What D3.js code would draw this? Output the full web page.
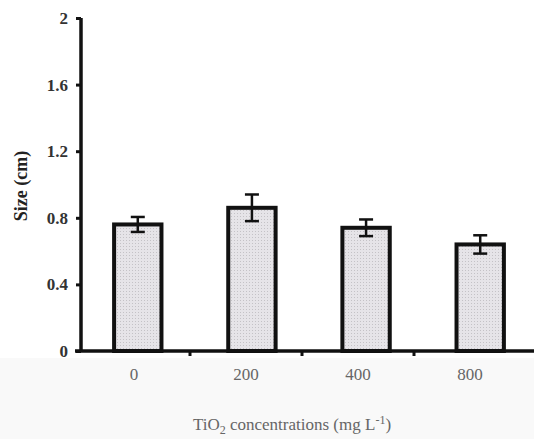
<!DOCTYPE html>
<html>
<head>
<meta charset="utf-8">
<script src="https://cdn.jsdelivr.net/npm/d3@7"></script>
<style>
  body { margin: 0; background: #fff; }
  svg { display: block; }
  svg text { font-family: "Liberation Serif", "Times New Roman", serif !important; }
</style>
</head>
<body>
<div id="chart"></div>
<script>
// data
var concentrations = ["0", "200", "400", "800"];
var sizes = [0.76, 0.86, 0.74, 0.64];
var errors = [0.045, 0.08, 0.05, 0.055];
var yTicks = [0, 0.4, 0.8, 1.2, 1.6, 2];

var width = 534;
var height = 439;
var y0 = 351, yTop = 18, xLeft = 81;

var svg = d3.select("#chart")
  .append("svg")
  .attr("width", width)
  .attr("height", height);

// the scan is a bit grey under the axis
svg.append("rect")
  .attr("x", 0).attr("y", 358)
  .attr("width", width).attr("height", height - 358)
  .attr("fill", "#f9f9f9");

var defs = svg.append("defs");
var pat = defs.append("pattern")
  .attr("id", "dots")
  .attr("width", 3).attr("height", 3)
  .attr("patternUnits", "userSpaceOnUse");
pat.append("rect").attr("width", 3).attr("height", 3).attr("fill", "#e6e4e8");
pat.append("rect").attr("width", 1).attr("height", 1).attr("fill", "#c4c2c6");

var y = d3.scaleLinear().domain([0, 2]).range([y0, yTop]);

// bars sit slightly right of the labels in the original
var xBars = d3.scaleBand().domain(concentrations).range([xLeft, 537]).paddingInner(0.585).paddingOuter(0.29);
var xLabels = d3.scaleBand().domain(concentrations).range([78, 526]);

// y axis
var yAxis = svg.append("g")
  .attr("transform", `translate(${xLeft},0)`)
  .call(d3.axisLeft(y).tickValues(yTicks).tickSize(5).tickFormat(d => d === 0 ? "0" : d3.format("")(d)));
yAxis.select(".domain").attr("stroke", "#111").attr("stroke-width", 3.5).attr("d", `M0,${y0}V${yTop}`);
yAxis.selectAll(".tick line").attr("stroke", "#111").attr("stroke-width", 3);
yAxis.selectAll(".tick text")
  .attr("font-size", 17).attr("font-weight", "bold").attr("fill", "#333").attr("x", -13);

// bars
var data = concentrations.map((c, i) => ({c: c, v: sizes[i], e: errors[i]}));

svg.append("g").selectAll("rect")
  .data(data)
  .join("rect")
    .attr("x", d => xBars(d.c))
    .attr("y", d => y(d.v))
    .attr("width", xBars.bandwidth())
    .attr("height", d => y0 - y(d.v))
    .attr("fill", "url(#dots)")
    .attr("stroke", "#111")
    .attr("stroke-width", 4);

// error bars
var eb = svg.append("g").attr("stroke", "#111").attr("stroke-width", 2.5);
data.forEach(d => {
  var cx = xBars(d.c) + xBars.bandwidth() / 2;
  eb.append("line").attr("x1", cx).attr("x2", cx).attr("y1", y(d.v + d.e)).attr("y2", y(d.v - d.e));
  eb.append("line").attr("x1", cx - 7).attr("x2", cx + 7).attr("y1", y(d.v + d.e)).attr("y2", y(d.v + d.e));
  eb.append("line").attr("x1", cx - 7).attr("x2", cx + 7).attr("y1", y(d.v - d.e)).attr("y2", y(d.v - d.e));
});

// x axis
var xAxis = svg.append("g")
  .attr("transform", `translate(0,${y0})`)
  .call(d3.axisBottom(xLabels).tickSize(0).tickPadding(17));
xAxis.select(".domain").remove();
xAxis.append("line")
  .attr("x1", 75).attr("x2", width).attr("y1", 0).attr("y2", 0)
  .attr("stroke", "#111").attr("stroke-width", 3.5);
xAxis.selectAll(".sep")
  .data(concentrations.slice(1))
  .join("line")
    .attr("x1", d => xLabels(d)).attr("x2", d => xLabels(d))
    .attr("y1", 0).attr("y2", 5)
    .attr("stroke", "#111").attr("stroke-width", 3);
xAxis.selectAll(".tick text")
  .attr("font-size", 17).attr("fill", "#666");

// axis titles
svg.append("text")
  .attr("transform", "translate(27,186) rotate(-90)")
  .attr("text-anchor", "middle")
  .attr("font-size", 18)
  .attr("font-weight", "bold")
  .attr("fill", "#222")
  .text("Size (cm)");

var xt = svg.append("text")
  .attr("x", 292).attr("y", 430)
  .attr("text-anchor", "middle")
  .attr("font-size", 17)
  .attr("fill", "#666");
xt.append("tspan").text("TiO");
xt.append("tspan").attr("font-size", 12).attr("dy", 4).text("2");
xt.append("tspan").attr("dy", -4).text(" concentrations (mg L");
xt.append("tspan").attr("font-size", 12).attr("dy", -6).text("-1");
xt.append("tspan").attr("dy", 6).text(")");
</script>
</body>
</html>
